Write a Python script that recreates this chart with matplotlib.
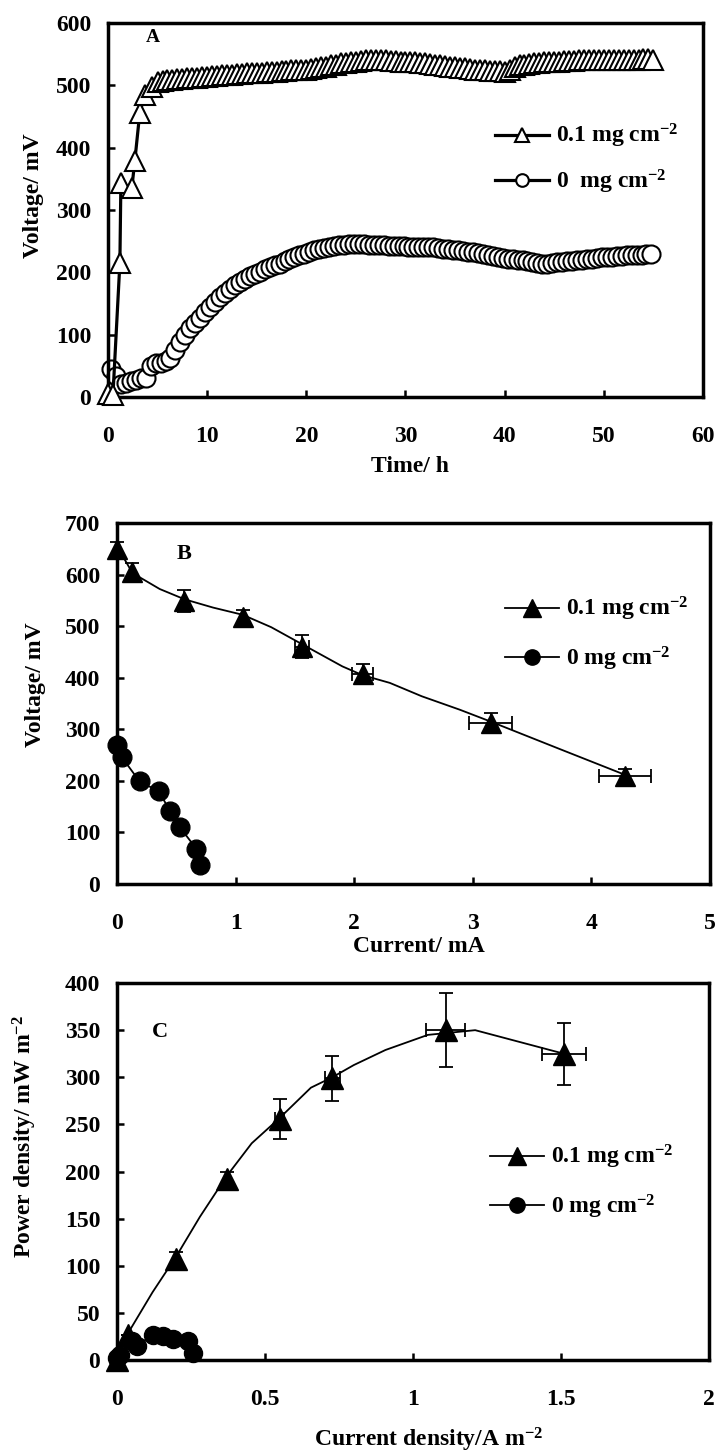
import numpy as np
import matplotlib
matplotlib.use('Agg')
import matplotlib.pyplot as plt

plt.rcParams['font.family'] = ['Liberation Serif', 'DejaVu Serif']
plt.rcParams['font.weight'] = 'bold'
plt.rcParams['mathtext.fontset'] = 'custom'
plt.rcParams['mathtext.rm'] = 'Liberation Serif:bold'
plt.rcParams['mathtext.it'] = 'Liberation Serif:bold'
plt.rcParams['mathtext.bf'] = 'Liberation Serif:bold'
plt.rcParams['axes.linewidth'] = 2.5

# ---------- A: voltage vs time ----------
t_tri = [0.0, 0.5, 1.2, 1.3, 2.4, 2.7, 3.2, 3.7, 4.4] + list(np.arange(5.0, 55.01, 0.5))
v_tri = [5, 3, 215, 343, 335, 378, 455, 485, 498,
         505, 507, 508, 509, 510, 510, 511, 512, 512, 513,
         514, 515, 515, 516, 516, 517, 518, 518, 519, 519,
         520, 520, 521, 522, 522, 523, 523, 524, 524, 525,
         525, 526, 528, 529, 530, 532, 533, 535, 536, 537,
         538, 539, 540, 540, 541, 540, 540, 539, 539, 538,
         538, 537, 537, 536, 535, 534, 533, 532, 531, 530,
         529, 528, 527, 526, 525, 524, 524, 523, 523, 523,
         522, 524, 530, 532, 533, 534, 535, 536, 537, 537,
         538, 538, 539, 539, 539, 540, 540, 540, 540, 541,
         541, 541, 541, 541, 541, 541, 541, 541, 542, 542, 541]

t_circ = np.arange(0.3, 55.0, 0.5)
v_circ = [45, 33, 20, 22, 25, 27, 30, 30, 50, 55,
          55, 58, 62, 75, 88, 100, 110, 118, 127, 136,
          145, 153, 160, 167, 173, 179, 184, 189, 194, 198,
          201, 205, 208, 211, 214, 218, 221, 224, 227, 230,
          232, 235, 237, 239, 241, 242, 243, 244, 245, 245,
          245, 245, 244, 244, 243, 243, 242, 242, 242, 242,
          241, 241, 241, 241, 240, 240, 239, 238, 237, 236,
          235, 234, 233, 232, 231, 229, 228, 226, 225, 223,
          222, 221, 220, 219, 218, 217, 215, 214, 214, 215,
          216, 217, 218, 218, 219, 220, 221, 222, 223, 224,
          224, 225, 226, 226, 227, 227, 228, 228, 229, 230]

# ---------- B: voltage vs current ----------
i_tri = [0.0, 0.13, 0.565, 1.06, 1.56, 2.07, 3.15, 4.28]
u_tri = [650, 605, 549, 517, 460, 408, 312, 209]
u_err = [13, 18, 21, 15, 22, 19, 19, 15]
i_err = [0, 0, 0, 0, 0.06, 0.09, 0.18, 0.22]
i_line = [0.0, 0.13, 0.36, 0.57, 0.81, 1.06, 1.3, 1.56, 1.9, 2.07, 2.3, 2.57, 2.89, 3.15, 3.73, 4.28]
u_line = [655, 603, 572, 552, 536, 522, 498, 465, 422, 405, 390, 364, 338, 315, 262, 212]
i_circ = [0.0, 0.04, 0.19, 0.35, 0.45, 0.53, 0.67, 0.70]
u_circ = [269, 246, 199, 180, 141, 110, 68, 37]

# ---------- C: power density vs current density ----------
j_tri = [0.0, 0.037, 0.20, 0.37, 0.55, 0.727, 1.11, 1.51]
p_tri = [0, 27, 107, 192, 256, 299, 350, 325]
p_err = [0, 0, 8, 8, 21, 24, 39, 33]
j_err = [0, 0, 0, 0, 0.015, 0.025, 0.065, 0.075]
j_line = [0.0, 0.04, 0.12, 0.2, 0.28, 0.37, 0.455, 0.55, 0.655, 0.727, 0.8, 0.907, 1.05, 1.21, 1.51]
p_line = [0, 30, 72, 110, 152, 195, 230, 257, 289, 300, 313, 329, 345, 350, 325]
j_circ = [0.0, 0.01, 0.05, 0.067, 0.12, 0.155, 0.19, 0.24, 0.255]
p_circ = [2, 5, 20, 15, 27, 26, 22, 20, 8]

lab1 = '0.1 mg cm$^{-2}$'
lab0 = '0 mg cm$^{-2}$'

fig = plt.figure(figsize=(7.18, 14.54), dpi=100)
axA = fig.add_axes([0.1504, 0.7270, 0.8287, 0.2572])
axB = fig.add_axes([0.1630, 0.3920, 0.8259, 0.2483])
axC = fig.add_axes([0.1630, 0.0646, 0.8245, 0.2593])


def style(ax, xlab, ylab, xl, yl):
    ax.tick_params(direction='in', length=5, width=1.8, labelsize=17, top=False, right=False)
    ax.tick_params(axis='x', pad=21)
    ax.tick_params(axis='y', pad=12)
    ax.set_xlabel(xlab, fontsize=17, fontweight='bold')
    ax.set_ylabel(ylab, fontsize=17, fontweight='bold')
    ax.xaxis.set_label_coords(*xl)
    ax.yaxis.set_label_coords(*yl)
    ax.xaxis.label.set_verticalalignment('center')
    ax.yaxis.label.set_verticalalignment('center')


# A
la, = axA.plot(t_tri, v_tri, '-^', color='k', lw=2.3, ms=15, mfc='white', mec='k', mew=1.5,
               clip_on=False, zorder=3, label=lab1)
lc, = axA.plot(t_circ, v_circ, '-o', color='k', lw=2.3, ms=13, mfc='white', mec='k', mew=1.5,
               clip_on=False, zorder=2, label='0  mg cm$^{-2}$')
axA.set_xlim(0, 60)
axA.set_ylim(0, 600)
axA.set_xticks(range(0, 61, 10))
axA.set_yticks(range(0, 601, 100))
axA.text(4.5, 576, 'A', fontsize=14, ha='center', va='center')
style(axA, 'Time/ h', 'Voltage/ mV', (0.507, -0.187), (-0.126, 0.537))
axA.legend(handles=[la, lc], frameon=False, loc='upper left', bbox_to_anchor=(0.65, 0.735),
           borderpad=0, borderaxespad=0, handlelength=2.3, handletextpad=0.3,
           labelspacing=0.75, fontsize=17, markerscale=0.7)

# B
axB.errorbar(i_tri, u_tri, yerr=u_err, xerr=i_err, fmt='none', ecolor='k', elinewidth=1.3,
             capsize=5, capthick=1.3, clip_on=False, zorder=2)
axB.plot(i_line, u_line, '-', color='k', lw=1.3, clip_on=False, zorder=2)
axB.plot(i_tri, u_tri, '^', color='k', ms=15, clip_on=False, zorder=3)
axB.plot(i_circ, u_circ, '-', color='k', lw=1.3, clip_on=False, zorder=2)
axB.plot(i_circ, u_circ, 'o', color='k', ms=13.5, clip_on=False, zorder=3)
axB.set_xlim(0, 5)
axB.set_ylim(0, 700)
axB.set_xticks(range(0, 6))
axB.set_yticks(range(0, 701, 100))
axB.text(0.565, 640, 'B', fontsize=16, ha='center', va='center')
style(axB, 'Current/ mA', 'Voltage/ mV', (0.509, -0.172), (-0.137, 0.551))
hb1 = plt.Line2D([], [], color='k', lw=1.3, marker='^', ms=13)
hb0 = plt.Line2D([], [], color='k', lw=1.3, marker='o', ms=11)
axB.legend(handles=[hb1, hb0], labels=[lab1, lab0], frameon=False, loc='upper left',
           bbox_to_anchor=(0.654, 0.80), borderpad=0, borderaxespad=0, handlelength=2.3,
           handletextpad=0.3, labelspacing=0.9, fontsize=17)

# C
axC.errorbar(j_tri, p_tri, yerr=p_err, xerr=j_err, fmt='none', ecolor='k', elinewidth=1.3,
             capsize=5, capthick=1.3, clip_on=False, zorder=2)
axC.plot(j_line, p_line, '-', color='k', lw=1.3, clip_on=False, zorder=2)
axC.plot(j_tri, p_tri, '^', color='k', ms=16, clip_on=False, zorder=3)
axC.plot(j_circ, p_circ, '-', color='k', lw=1.3, clip_on=False, zorder=2)
axC.plot(j_circ, p_circ, 'o', color='k', ms=13, clip_on=False, zorder=3)
axC.set_xlim(0, 2)
axC.set_ylim(0, 400)
axC.set_xticks([0, 0.5, 1, 1.5, 2])
axC.set_xticklabels(['0', '0.5', '1', '1.5', '2'])
axC.set_yticks(range(0, 401, 50))
axC.text(0.144, 348, 'C', fontsize=16, ha='center', va='center')
style(axC, 'Current density/A m$^{-2}$', 'Power density/ mW m$^{-2}$', (0.527, -0.212), (-0.155, 0.594))
axC.legend(handles=[hb1, hb0], labels=[lab1, lab0], frameon=False, loc='upper left',
           bbox_to_anchor=(0.63, 0.575), borderpad=0, borderaxespad=0, handlelength=2.3,
           handletextpad=0.3, labelspacing=0.9, fontsize=17)

fig.savefig('out.png', dpi=100)
